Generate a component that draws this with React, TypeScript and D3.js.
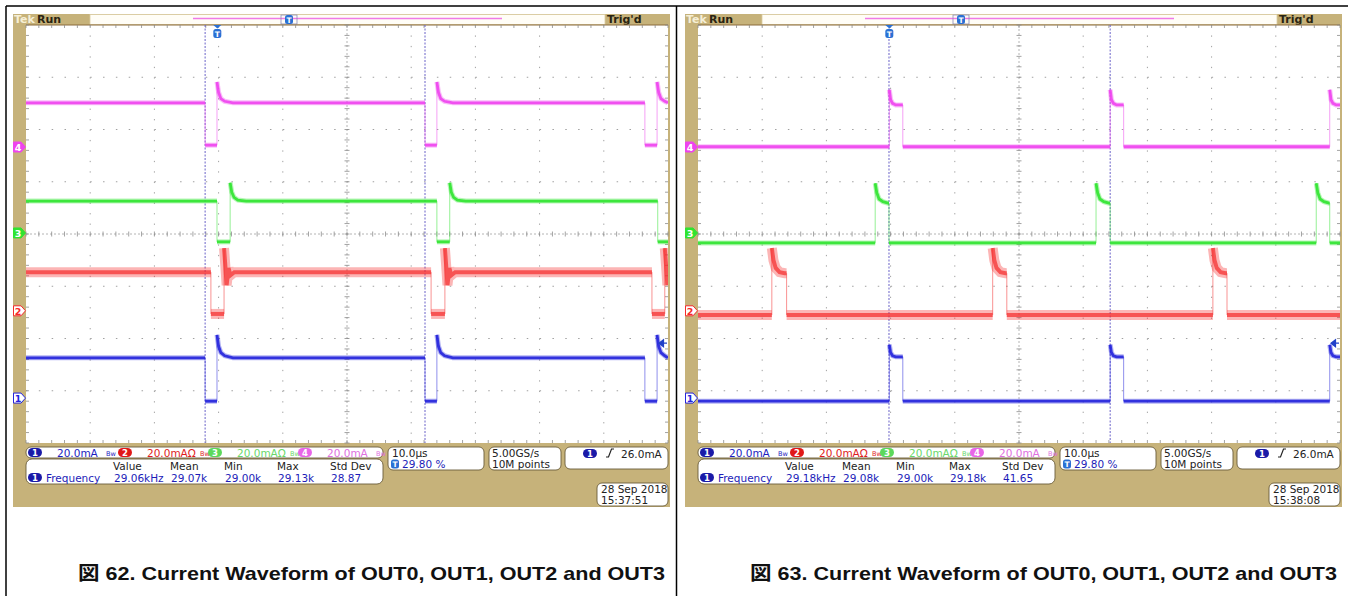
import React from "react";
import * as d3 from "d3";

// time axis: 10 div x 10.0 µs, vertical: 8 div
const timeTicks = [0, 10, 20, 30, 40, 50, 60, 70, 80, 90, 100];
const levelTicks = [-4, -3, -2, -1, 0, 1, 2, 3, 4];

const channelIds = ["1", "2", "3", "4"];
const traceColors = ["#2424dc", "#f52a2a", "#30e430", "#ee44ee"];
const traceWidths = [5, 10, 5, 5];
const coreWidths = [2.8, 4, 2.8, 2.8];
const coreOpacity = [0.9, 0.7, 0.9, 0.9];
const channelScale = ["20.0mA", "20.0mAΩ", "20.0mAΩ", "20.0mA"];
const groundMarks = [-3.14, -1.47, 0.02, 1.665];
const triggerLevel = -2.09;
const triggerPos = 29.8;

const statHeaders = ["Value", "Mean", "Min", "Max", "Std Dev"];

// Fig 62 (levels in divisions, times in µs)
const fig62Base = [-2.37, -0.73, 0.63, 2.51];
const fig62Pulse = [-3.2, -1.53, -0.15, 1.7];
const fig62Windows = [
  [[27.9, 29.75], [62.15, 64.0], [96.4, 98.3]],
  [[28.8, 30.85], [63.1, 65.25], [97.5, 99.5]],
  [[29.75, 31.8], [64.0, 66.0], [98.4, 100]],
  [[27.9, 29.75], [62.15, 64.0], [96.4, 98.3]],
];
const fig62Spikes = [
  [[0, 0.44], [0.25, 0.22], [0.6, 0.1], [1.2, 0.04], [2.5, 0]],
  [[0, 0.46], [0.2, 0.12], [0.4, -0.25], [0.7, 0.08], [1.0, -0.06], [1.6, 0]],
  [[0, 0.35], [0.25, 0.17], [0.6, 0.07], [1.2, 0.02], [2.5, 0]],
  [[0, 0.4], [0.25, 0.2], [0.6, 0.08], [1.2, 0.03], [2.5, 0]],
];
const fig62Cursors = [27.9, 62.15];
const fig62Stats = ["29.06kHz", "29.07k", "29.00k", "29.13k", "28.87"];
const fig62Clock = ["28 Sep  2018", "15:37:51"];

// Fig 63
const fig63Base = [-3.2, -1.55, -0.17, 1.67];
const fig63Pulse = [-2.35, -0.75, 0.59, 2.47];
const fig63Windows = [
  [[29.8, 31.9], [64.2, 66.3], [98.4, 100]],
  [[11.5, 13.8], [45.9, 48.1], [80.2, 82.4]],
  [[27.6, 29.75], [62.0, 64.2], [96.3, 98.4]],
  [[29.8, 31.9], [64.2, 66.3], [98.4, 100]],
];
const fig63Spikes = [
  [[0, 0.23], [0.2, 0.08], [0.5, 0.02], [1, 0]],
  [[0, 0.48], [0.25, 0.25], [0.6, 0.1], [1.2, 0.02], [2, 0]],
  [[0, 0.38], [0.25, 0.2], [0.6, 0.08], [1.2, 0.03], [2, 0]],
  [[0, 0.29], [0.2, 0.1], [0.5, 0.03], [1, 0]],
];
const fig63Cursors = [29.75, 64.2];
const fig63Stats = ["29.18kHz", "29.08k", "29.00k", "29.18k", "41.65"];
const fig63Clock = ["28 Sep  2018", "15:38:08"];

const TAN = "#c6b27a";
const BOX = "#6a5c3a";
const FONT = "DejaVu Sans, Verdana, sans-serif";
const CAPTION_FONT = "Liberation Sans, Arial, Noto Sans CJK JP, sans-serif";

type Pt = [number, number];

function buildTrace(base: number, pulse: number, windows: number[][], spike: number[][]) {
  const risingAtStart = pulse > base;
  const bounds = [0, ...windows.flat(), 100];
  const segs: Pt[][] = [];
  const edges: { t: number; lo: number; hi: number }[] = [];
  for (let i = 0; i < bounds.length - 1; i++) {
    const t0 = bounds[i];
    const t1 = bounds[i + 1];
    if (t1 <= t0) continue;
    const level = i % 2 === 0 ? base : pulse;
    const spiky = i > 0 && ((risingAtStart && level === pulse) || (!risingAtStart && level === base));
    let pts: Pt[] = [];
    if (spiky) {
      pts = spike.filter(s => s[0] < t1 - t0).map(s => [t0 + s[0], level + s[1]] as Pt);
    } else {
      pts = [[t0, level]];
    }
    pts.push([t1, level]);
    segs.push(pts);
    if (i > 0) {
      const lo = Math.min(base, pulse);
      const hi = spiky ? level + spike[0][1] : Math.max(base, pulse);
      edges.push({ t: t0, lo, hi });
    }
  }
  return { segs, edges };
}

const Pill = ({ x, y, n, fill }: { x: number; y: number; n: string; fill: string }) => (
  <g>
    <rect x={x} y={y} width={14} height={9} rx={4.5} fill={fill} />
    <text x={x + 7} y={y + 7.8} fontSize={8.5} fontWeight="bold" fill="#fff" textAnchor="middle" fontFamily={FONT}>
      {n}
    </text>
  </g>
);

const TIcon = ({ x, y }: { x: number; y: number }) => (
  <g>
    <rect x={x} y={y} width={8} height={9} rx={2.5} fill="#2a70d4" />
    <text x={x + 4} y={y + 7.5} fontSize={7.5} fontWeight="bold" fill="#fff" textAnchor="middle" fontFamily={FONT}>
      T
    </text>
  </g>
);

interface ScopeProps {
  dx: number;
  fig: string;
  base: number[];
  pulse: number[];
  windows: number[][][];
  spikes: number[][][];
  cursors: number[];
  stats: string[];
  clock: string[];
}

const Scope = ({ dx, fig, base, pulse, windows, spikes, cursors, stats, clock }: ScopeProps) => {
  const x = d3.scaleLinear().domain([timeTicks[0], timeTicks[timeTicks.length - 1]]).range([26, 668]);
  const y = d3.scaleLinear().domain([levelTicks[0], levelTicks[levelTicks.length - 1]]).range([443, 25]);
  const line = d3.line<Pt>().x(d => x(d[0])).y(d => y(d[1]));
  const hStep = (x(10) - x(0)) / 5;
  const vStep = (y(-1) - y(0)) / 5;
  const minorT = d3.range(0, 100.001, 2);
  const minorV = d3.range(-4, 4.001, 0.2);
  const [x0, x1] = x.range();
  const [yb, yt] = y.range();
  const clipId = `plot-clip-${fig}`;
  const traces = channelIds.map((_, i) => buildTrace(base[i], pulse[i], windows[i], spikes[i]));
  const statX = [113, 170, 224, 277, 330];
  const tx = x(triggerPos);

  return (
    <g transform={`translate(${dx},0)`}>
      <rect x={13} y={14} width={657} height={493} fill={TAN} />
      {/* top bar */}
      <rect x={90} y={14.5} width={515} height={10} fill="#fffdf6" stroke="#d9caa0" strokeWidth={0.8} />
      <text x={14} y={23} fontSize={11} fontWeight="bold" fill="#f6efd6" fontFamily={FONT}>Tek</text>
      <text x={37} y={23} fontSize={11} fontWeight="bold" fill="#2a2412" fontFamily={FONT}>Run</text>
      <text x={607} y={23} fontSize={11} fontWeight="bold" fill="#2a2412" fontFamily={FONT}>Trig'd</text>
      <line x1={193} x2={502} y1={18.5} y2={18.5} stroke="#f07ae6" strokeWidth={1.5} />
      <rect x={281} y={15} width={16} height={9} fill="none" stroke="#8a8ab8" strokeWidth={0.8} />
      <TIcon x={285} y={15} />

      {/* plot */}
      <rect x={x0} y={yt} width={x1 - x0} height={yb - yt} fill="#fff" />
      <line x1={x0} x2={x1} y1={yt} y2={yt} stroke="#8a6a3a" strokeWidth={1.2} />
      {timeTicks.slice(1, -1).filter(t => t !== 50).map(t => (
        <line key={`v${t}`} x1={x(t)} x2={x(t)} y1={yt} y2={yb} stroke="#a0a0a0"
          strokeDasharray={`1.3 ${vStep - 1.3}`} />
      ))}
      {levelTicks.slice(1, -1).filter(v => v !== 0).map(v => (
        <line key={`h${v}`} x1={x0} x2={x1} y1={y(v)} y2={y(v)} stroke="#a0a0a0"
          strokeDasharray={`1.5 ${hStep - 1.5}`} />
      ))}
      <line x1={x(50)} x2={x(50)} y1={yt} y2={yb} stroke="#b4b4b4" strokeDasharray="2 2" />
      <line x1={x0} x2={x1} y1={y(0)} y2={y(0)} stroke="#b4b4b4" strokeDasharray="2 2" />
      {minorT.map(t => (
        <g key={`mt${t}`} stroke="#8c8c8c" strokeWidth={0.8}>
          <line x1={x(t)} x2={x(t)} y1={y(0) - 2.5} y2={y(0) + 2.5} />
          <line x1={x(t)} x2={x(t)} y1={yt} y2={yt + 3} />
          <line x1={x(t)} x2={x(t)} y1={yb - 3} y2={yb} />
        </g>
      ))}
      {minorV.map(v => (
        <g key={`mv${v.toFixed(1)}`} stroke="#8c8c8c" strokeWidth={0.8}>
          <line x1={x(50) - 2.5} x2={x(50) + 2.5} y1={y(v)} y2={y(v)} />
          <line x1={x0} x2={x0 + 3} y1={y(v)} y2={y(v)} />
          <line x1={x1 - 3} x2={x1} y1={y(v)} y2={y(v)} />
        </g>
      ))}

      <clipPath id={clipId}>
        <rect x={x0} y={yt} width={x1 - x0} height={yb - yt} />
      </clipPath>
      <g clipPath={`url(#${clipId})`}>
        {cursors.map((c, i) => (
          <line key={`c${i}`} x1={x(c)} x2={x(c)} y1={yt} y2={yb} stroke="#6a62c8" strokeWidth={1} strokeDasharray="2 1.5" />
        ))}
        {traces.map((tr, i) => (
          <g key={`tr${i}`}>
            {tr.edges.map((e, j) => (
              <line key={`e${j}`} x1={x(e.t)} x2={x(e.t)} y1={y(e.lo)} y2={y(e.hi)} stroke={traceColors[i]}
                strokeWidth={1} opacity={0.5} />
            ))}
            {tr.segs.map((s, j) => (
              <g key={`s${j}`}>
                <path d={line(s) || ""} fill="none" stroke={traceColors[i]} strokeWidth={traceWidths[i]} opacity={0.35} />
                <path d={line(s) || ""} fill="none" stroke={traceColors[i]} strokeWidth={coreWidths[i]}
                  opacity={coreOpacity[i]} />
              </g>
            ))}
          </g>
        ))}
      </g>

      {/* trigger position marker */}
      <path d={`M${tx - 4},${yt} L${tx + 4},${yt} L${tx},${yt + 3.5} Z`} fill="#2a70d4" />
      <TIcon x={tx - 4} y={yt + 4} />
      {/* trigger level */}
      <path d={`M${x1 - 9},${y(triggerLevel)} l4.5,-3.5 v7 Z M${x1 - 5},${y(triggerLevel)} h4`} fill="#2040c8"
        stroke="#2040c8" strokeWidth={1.2} />

      {/* ground markers */}
      {channelIds.map((id, i) => {
        const gy = y(groundMarks[i]);
        const filled = i >= 2;
        return (
          <g key={`g${id}`}>
            <path d={`M13.5,${gy - 5} h7.5 l4.5,5 l-4.5,5 h-7.5 Z`} fill={filled ? traceColors[i] : "#fff"}
              stroke={traceColors[i]} strokeWidth={1} />
            <text x={18} y={gy + 3.7} fontSize={9.5} fontWeight="bold" textAnchor="middle" fontFamily={FONT}
              fill={filled ? "#fff" : traceColors[i]}>{id}</text>
          </g>
        );
      })}

      {/* channel readouts */}
      <rect x={26} y={447} width={357} height={11} rx={5} fill="#fff" stroke={BOX} strokeWidth={0.9} />
      {channelIds.map((id, i) => {
        const bx = 28 + i * 90;
        const pill = ["#1a1aa8", "#e01818", "#5cd85c", "#e866e8"][i];
        const txt = ["#1c1cc0", "#e01c1c", "#6ad86a", "#e070e0"][i];
        return (
          <g key={`ch${id}`}>
            <Pill x={bx} y={448} n={id} fill={pill} />
            <text x={bx + 29} y={456.5} fontSize={10.5} fill={txt} fontFamily={FONT}>{channelScale[i]}</text>
            <text x={bx + (i === 0 || i === 3 ? 78 : 82)} y={455.5} fontSize={6.5} fill={txt} fontFamily={FONT}>Bw</text>
          </g>
        );
      })}

      {/* measurement */}
      <rect x={26} y={459} width={357} height={25} rx={6} fill="#fff" stroke={BOX} strokeWidth={0.9} />
      {statHeaders.map((h, i) => (
        <text key={h} x={statX[i]} y={469.5} fontSize={10.5} fill="#222" fontFamily={FONT}>{h}</text>
      ))}
      <Pill x={28} y={473} n="1" fill="#1a1aa8" />
      <text x={46} y={481.5} fontSize={10.5} fill="#1c1cb8" fontFamily={FONT}>Frequency</text>
      {stats.map((s, i) => (
        <text key={`st${i}`} x={statX[i] + 1} y={481.5} fontSize={10.5} fill="#1c1cb8" fontFamily={FONT}>{s}</text>
      ))}

      {/* timebase */}
      <rect x={388} y={447} width={96} height={23} rx={5} fill="#fff" stroke={BOX} strokeWidth={0.9} />
      <text x={392} y={457} fontSize={10.5} fill="#222" fontFamily={FONT}>10.0µs</text>
      <TIcon x={391} y={459.5} />
      <text x={402} y={468} fontSize={10.5} fill="#1c1cb8" fontFamily={FONT}>29.80 %</text>

      <rect x={489} y={447} width={72} height={23} rx={5} fill="#fff" stroke={BOX} strokeWidth={0.9} />
      <text x={492} y={457} fontSize={10.5} fill="#222" fontFamily={FONT}>5.00GS/s</text>
      <text x={492} y={468} fontSize={10.5} fill="#222" fontFamily={FONT}>10M points</text>

      <rect x={565} y={447} width={103} height={22} rx={5} fill="#fff" stroke={BOX} strokeWidth={0.9} />
      <Pill x={583} y={449} n="1" fill="#1a1aa8" />
      <path d="M606,457 h2.5 l3,-8 h2.5" fill="none" stroke="#222" strokeWidth={1.2} />
      <text x={621} y={457.5} fontSize={10.5} fill="#222" fontFamily={FONT}>26.0mA</text>

      <rect x={597} y={483} width={71} height={23} rx={5} fill="#fff" stroke={BOX} strokeWidth={0.9} />
      <text x={601} y={493} fontSize={10.5} fill="#222" fontFamily={FONT}>{clock[0]}</text>
      <text x={601} y={503.5} fontSize={10.5} fill="#222" fontFamily={FONT}>{clock[1]}</text>

      <text x={78} y={580} fontSize={19} fontWeight="bold" fill="#111" fontFamily={CAPTION_FONT}
        textLength={587} lengthAdjust="spacingAndGlyphs">
        {`図 ${fig}. Current Waveform of OUT0, OUT1, OUT2 and OUT3`}
      </text>
    </g>
  );
};

export default function App() {
  return (
    <svg width={1348} height={596} style={{ position: "absolute", left: 0, top: 0, background: "#fff" }}>
      <rect width={1348} height={596} fill="#fff" />
      <Scope dx={0} fig="62" base={fig62Base} pulse={fig62Pulse} windows={fig62Windows} spikes={fig62Spikes}
        cursors={fig62Cursors} stats={fig62Stats} clock={fig62Clock} />
      <Scope dx={672} fig="63" base={fig63Base} pulse={fig63Pulse} windows={fig63Windows} spikes={fig63Spikes}
        cursors={fig63Cursors} stats={fig63Stats} clock={fig63Clock} />
      <line x1={6} x2={1348} y1={6} y2={6} stroke="#000" strokeWidth={1.5} />
      <line x1={6} x2={6} y1={6} y2={596} stroke="#000" strokeWidth={1.5} />
      <line x1={676.5} x2={676.5} y1={6} y2={596} stroke="#000" strokeWidth={1.5} />
    </svg>
  );
}
